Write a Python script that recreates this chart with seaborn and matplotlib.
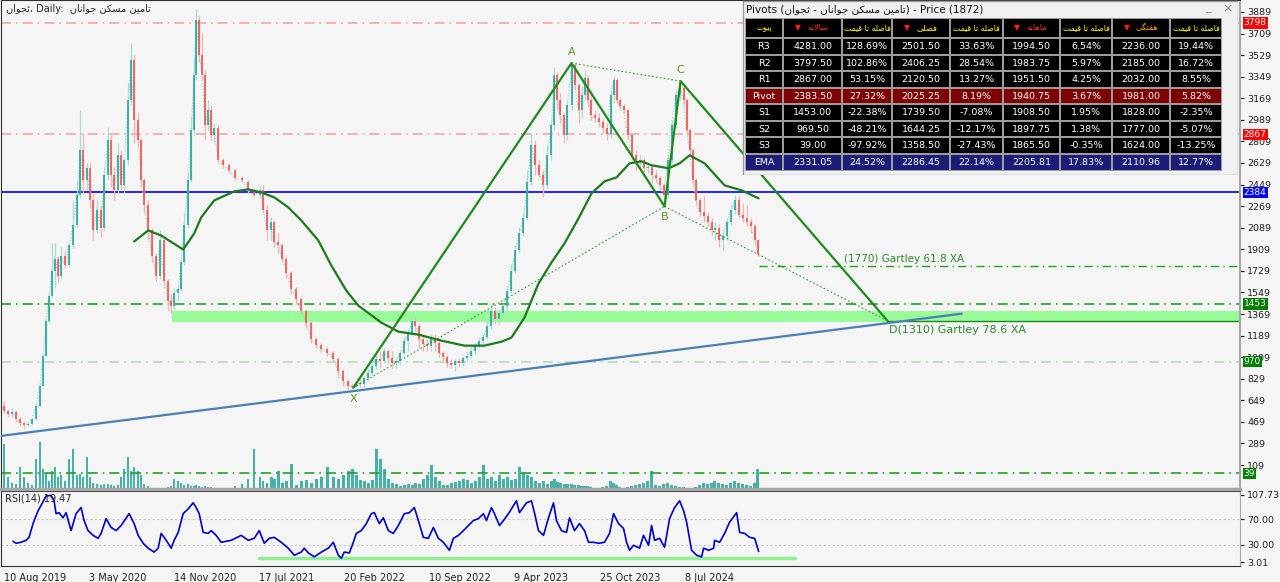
"""
ثجوان daily chart: candles + volume, pivot levels, gartley pattern, RSI(14) and pivot table
"""
import numpy as np
import pandas as pd
import matplotlib
matplotlib.use("Agg")
import matplotlib.pyplot as plt
from matplotlib.patches import Rectangle
import seaborn as sns

sns.set_style("white")
plt.rcParams['font.family'] = ['DejaVu Sans']
plt.rcParams['axes.unicode_minus'] = False

# ── data ─────────────────────────────────────────────────────────────────────
bar_idx = [0, 8, 16, 24, 32, 40, 48, 56, 64, 72,
           78, 84, 90, 96, 102, 108, 114, 122, 130, 138,
           146, 152, 158, 166, 172, 178, 186, 194, 200, 208,
           214, 220, 228, 234, 240, 248, 254, 260, 268, 274,
           280, 288, 296, 304, 312, 320, 328, 334, 340, 348,
           354, 360, 368, 374, 380, 384, 390, 396, 402, 408,
           414, 420, 428, 438, 450, 462, 476, 488, 500, 512,
           518, 526, 534, 540, 548, 556, 564, 574, 584, 594,
           604, 614, 624, 634, 646, 658, 668, 678, 688, 696,
           704, 712, 720, 728, 736, 744, 752, 760, 768, 776,
           784, 792, 800, 808, 816, 822, 830, 838, 846, 854,
           862, 870, 878, 886, 894, 902, 910, 918, 926, 934,
           942, 950, 958, 966, 974, 982, 990, 998, 1006, 1014,
           1022, 1030, 1038, 1046, 1054, 1062, 1070, 1078, 1086, 1094,
           1100, 1106, 1112, 1120, 1126, 1134, 1140, 1148, 1154, 1160,
           1166, 1172, 1180, 1188, 1196, 1204, 1212, 1218, 1224, 1230,
           1238, 1246, 1254, 1262, 1270, 1278, 1286, 1294, 1302, 1310,
           1318, 1326, 1334, 1342, 1350, 1358, 1364, 1370, 1376, 1382,
           1390, 1398, 1406, 1414, 1420, 1428, 1436, 1444, 1452, 1460,
           1468, 1476, 1484, 1492, 1500, 1506]
open_ = [603, 561, 536, 553, 495, 461, 444, 453, 495, 603,
         770, 1021, 1314, 1523, 1732, 1832, 1690, 1857, 1774, 1941,
         2108, 2359, 2735, 2484, 2585, 2317, 2066, 2233, 2083, 2526,
         2819, 2526, 2401, 2693, 2442, 2651, 3153, 3487, 2986, 2819,
         2484, 2275, 2066, 1857, 1690, 1983, 1648, 1481, 1439, 1548,
         1581, 1799, 2108, 2484, 2902, 3362, 3822, 3529, 3362, 2944,
         3069, 2860, 2919, 2651, 2610, 2568, 2501, 2468, 2401, 2359,
         2401, 2233, 2066, 2133, 1966, 1941, 1832, 1715, 1581, 1498,
         1397, 1297, 1163, 1113, 1080, 1046, 996, 896, 812, 770,
         760, 796, 787, 837, 879, 937, 996, 979, 1063, 1004,
         963, 979, 1046, 1147, 1213, 1314, 1272, 1163, 1121, 1105,
         1163, 1130, 1046, 1013, 963, 946, 979, 963, 1004, 1021,
         1063, 1105, 1147, 1180, 1272, 1397, 1330, 1381, 1439, 1565,
         1732, 1899, 2049, 2167, 2468, 2777, 2610, 2526, 2442, 2693,
         2944, 3362, 3153, 3028, 2860, 3111, 3446, 3278, 3069, 3195,
         3337, 3153, 3028, 3003, 2969, 2919, 2869, 3195, 3320, 3153,
         3103, 3069, 2860, 2693, 2635, 2651, 2585, 2593, 2526, 2501,
         2442, 2359, 2651, 2944, 3195, 3253, 3153, 2902, 2735, 2484,
         2317, 2217, 2183, 2133, 2066, 2083, 1983, 2024, 2133, 2233,
         2317, 2192, 2167, 2133, 2100, 1983]
high = [645, 578, 586, 570, 511, 478, 470, 503, 620, 787,
        1038, 1330, 1540, 1958, 1958, 1857, 1924, 1899, 1958, 2317,
        2484, 3069, 2877, 2626, 2626, 2376, 2317, 2275, 2593, 2927,
        2860, 2593, 2794, 2735, 2668, 3295, 3629, 3529, 3044, 2835,
        2501, 2317, 2083, 1874, 2066, 1999, 1665, 1548, 1590, 1623,
        1832, 2208, 2543, 3011, 3512, 3914, 3864, 3713, 3404, 3153,
        3111, 2961, 2944, 2668, 2626, 2585, 2518, 2484, 2409, 2434,
        2442, 2275, 2175, 2150, 2041, 1958, 1849, 1732, 1598, 1514,
        1414, 1314, 1180, 1130, 1096, 1063, 1013, 912, 829, 787,
        812, 829, 854, 912, 979, 1038, 1063, 1088, 1080, 1063,
        996, 1063, 1188, 1247, 1339, 1347, 1297, 1197, 1163, 1205,
        1205, 1147, 1063, 1029, 996, 996, 1004, 1021, 1063, 1096,
        1130, 1180, 1205, 1330, 1456, 1431, 1414, 1456, 1606, 1790,
        1941, 2091, 2208, 2568, 2877, 2819, 2651, 2568, 2777, 2986,
        3429, 3387, 3212, 3044, 3153, 3463, 3462, 3295, 3262, 3404,
        3362, 3237, 3069, 3044, 3003, 2952, 3237, 3345, 3337, 3170,
        3120, 3086, 2877, 2735, 2693, 2668, 2635, 2610, 2568, 2518,
        2459, 2693, 2986, 3237, 3312, 3278, 3170, 2919, 2752, 2501,
        2334, 2350, 2217, 2167, 2133, 2116, 2066, 2167, 2275, 2359,
        2350, 2292, 2275, 2167, 2116, 1999]
low = [545, 511, 511, 470, 436, 411, 428, 444, 486, 595,
       762, 1013, 1297, 1514, 1590, 1632, 1665, 1749, 1765, 1916,
       2083, 2334, 2376, 2401, 2259, 1983, 2041, 2008, 2066, 2484,
       2426, 2317, 2376, 2401, 2376, 2610, 3111, 2794, 2760, 2426,
       2208, 1983, 1799, 1648, 1665, 1590, 1397, 1381, 1414, 1481,
       1565, 1774, 2083, 2468, 2860, 3320, 3471, 3320, 2819, 2902,
       2819, 2794, 2626, 2585, 2543, 2484, 2468, 2376, 2342, 2334,
       2208, 1983, 1983, 1924, 1874, 1799, 1673, 1540, 1456, 1372,
       1255, 1130, 1088, 1055, 1021, 963, 837, 770, 745, 754,
       758, 762, 762, 812, 862, 912, 921, 963, 963, 921,
       921, 946, 1029, 1063, 1188, 1230, 1088, 1063, 1063, 1063,
       1063, 1013, 979, 929, 921, 896, 929, 937, 979, 1004,
       1038, 1088, 1121, 1163, 1247, 1289, 1289, 1356, 1414, 1548,
       1715, 1882, 2024, 2150, 2442, 2526, 2509, 2342, 2417, 2651,
       2902, 3069, 2961, 2794, 2819, 3069, 3237, 2961, 3003, 3153,
       3094, 2986, 2969, 2927, 2877, 2819, 2835, 3128, 3120, 3069,
       3044, 2819, 2651, 2568, 2568, 2551, 2543, 2459, 2459, 2401,
       2267, 2334, 2626, 2919, 3153, 3111, 2860, 2693, 2442, 2275,
       2183, 2133, 2100, 2024, 1983, 1924, 1899, 1983, 2108, 2200,
       2167, 2133, 2100, 2049, 1941, 1857]
close = [561, 536, 553, 495, 461, 444, 453, 495, 603, 770,
         1021, 1314, 1523, 1732, 1832, 1690, 1857, 1774, 1941, 2108,
         2359, 2735, 2484, 2585, 2317, 2066, 2233, 2083, 2526, 2819,
         2526, 2401, 2693, 2442, 2651, 3153, 3487, 2986, 2819, 2484,
         2275, 2066, 1857, 1690, 1983, 1648, 1481, 1439, 1548, 1581,
         1799, 2108, 2484, 2902, 3362, 3822, 3529, 3362, 2944, 3069,
         2860, 2919, 2651, 2610, 2568, 2501, 2484, 2401, 2359, 2401,
         2233, 2066, 2133, 1966, 1941, 1832, 1715, 1581, 1498, 1397,
         1297, 1163, 1113, 1080, 1046, 996, 896, 812, 770, 760,
         796, 787, 837, 879, 937, 996, 979, 1063, 1004, 963,
         979, 1046, 1147, 1213, 1314, 1272, 1163, 1121, 1105, 1163,
         1130, 1046, 1013, 963, 946, 979, 963, 1004, 1021, 1063,
         1105, 1147, 1180, 1272, 1397, 1330, 1381, 1439, 1565, 1732,
         1899, 2049, 2167, 2468, 2777, 2610, 2526, 2442, 2693, 2944,
         3362, 3153, 3028, 2860, 3111, 3446, 3278, 3069, 3195, 3337,
         3153, 3028, 3003, 2969, 2919, 2869, 3195, 3320, 3153, 3103,
         3069, 2860, 2693, 2635, 2651, 2585, 2593, 2526, 2501, 2442,
         2359, 2651, 2944, 3195, 3253, 3153, 2902, 2735, 2484, 2317,
         2217, 2183, 2133, 2066, 2083, 1983, 2024, 2133, 2233, 2317,
         2192, 2167, 2133, 2100, 1983, 1872]
volume = [45, 12, 6, 5, 22, 12, 6, 4, 30, 47,
          20, 15, 8, 18, 22, 12, 14, 8, 30, 40,
          14, 15, 12, 32, 12, 6, 5, 4, 5, 5,
          4, 3, 4, 12, 20, 32, 18, 22, 18, 14,
          5, 3, 1, 1, 1, 1, 2, 3, 10, 8,
          6, 4, 5, 3, 3, 4, 3, 2, 3, 2,
          2, 1, 1, 0.5, 0.5, 3, 5, 10, 40, 12,
          8, 6, 12, 10, 18, 6, 8, 25, 4, 8,
          9, 6, 10, 12, 22, 12, 10, 14, 18, 20,
          14, 9, 8, 6, 9, 40, 30, 20, 10, 6,
          5, 3, 4, 5, 4, 6, 5, 10, 14, 24,
          12, 8, 4, 4, 6, 7, 8, 10, 9, 6,
          8, 12, 24, 10, 12, 8, 14, 10, 12, 9,
          10, 22, 16, 14, 12, 8, 6, 8, 5, 8,
          10, 7, 6, 5, 5, 5, 4, 4, 3, 3,
          3, 2, 1, 1, 2, 3, 8, 6, 4, 2,
          1, 2, 3, 4, 5, 6, 8, 18, 4, 3,
          5, 6, 4, 3, 2, 2, 1, 1, 1, 2,
          4, 6, 5, 6, 8, 6, 5, 4, 6, 8,
          6, 5, 4, 3, 6, 20]

# smooth moving-average curve (dark green)
ma_idx = [260, 288, 314, 358, 380, 394, 420, 460, 488, 514, 540, 568, 594, 628,
          654, 684, 708, 754, 788, 828, 874, 920, 960, 994, 1014, 1040, 1068,
          1094, 1120, 1148, 1174, 1200, 1224, 1250, 1274, 1294, 1328, 1350,
          1370, 1400, 1440, 1474, 1508]
ma_val = [1974, 2066, 2024, 1907, 2041, 2175, 2317, 2392, 2409, 2384, 2342, 2259,
          2150, 1983, 1774, 1565, 1439, 1297, 1222, 1197, 1147, 1105, 1105, 1138,
          1172, 1339, 1623, 1799, 1958, 2167, 2376, 2476, 2509, 2626, 2643, 2610,
          2585, 2626, 2693, 2626, 2442, 2401, 2334]

# RSI(14)
rsi_idx = [18, 24, 34, 44, 50, 58, 68, 78, 84, 94, 100, 104, 110, 118, 124, 134,
           144, 154, 160, 168, 178, 188, 194, 204, 214, 224, 234, 250, 260, 268,
           278, 288, 300, 308, 314, 320, 328, 334, 340, 348, 358, 368, 378, 384,
           390, 398, 408, 414, 424, 434, 454, 474, 488, 500, 510, 520, 530, 540,
           554, 568, 580, 594, 600, 608, 620, 634, 648, 658, 668, 674, 680, 690,
           698, 704, 714, 724, 734, 740, 750, 758, 768, 778, 788, 800, 810, 820,
           828, 838, 848, 858, 868, 878, 890, 898, 908, 918, 928, 938, 948, 958,
           964, 974, 980, 990, 998, 1008, 1024, 1030, 1044, 1054, 1060, 1068,
           1078, 1088, 1098, 1104, 1114, 1124, 1130, 1140, 1150, 1160, 1168,
           1178, 1188, 1200, 1210, 1218, 1228, 1238, 1244, 1250, 1258, 1270,
           1278, 1288, 1294, 1300, 1310, 1320, 1330, 1340, 1350, 1358, 1364,
           1374, 1384, 1394, 1398, 1408, 1418, 1420, 1430, 1440, 1450, 1464,
           1470, 1480, 1490, 1500, 1508]
rsi_val = [35.4, 32.3, 33.8, 36.9, 41.5, 63.0, 83.0, 97.0, 106.0, 107.0, 98.5,
           78.5, 80.0, 72.0, 80.0, 52.0, 78.5, 88.0, 67.7, 52.0, 44.6, 40.0, 47.7,
           70.8, 57.0, 52.0, 60.0, 78.5, 63.0, 44.6, 32.3, 24.6, 18.5, 24.6, 47.7,
           41.5, 32.3, 24.6, 36.9, 49.2, 78.5, 86.0, 95.4, 88.0, 78.5, 49.2, 47.7,
           52.0, 44.6, 33.8, 36.9, 44.6, 36.9, 40.0, 52.0, 32.3, 40.0, 41.5, 33.8,
           24.6, 13.6, 18.5, 24.6, 17.2, 11.1, 18.5, 24.6, 33.8, 13.6, 9.0, 18.5,
           17.2, 33.8, 47.7, 52.0, 63.0, 78.5, 80.0, 63.0, 72.0, 52.0, 47.7, 60.0,
           78.5, 80.0, 88.0, 67.7, 41.5, 40.0, 57.0, 40.0, 33.8, 21.3, 40.0, 44.6,
           52.0, 60.0, 67.7, 70.8, 78.5, 67.7, 88.0, 78.5, 60.0, 67.7, 78.5, 98.5,
           80.0, 95.4, 98.5, 80.0, 52.0, 44.6, 72.0, 95.4, 67.7, 52.0, 49.2, 72.0,
           52.0, 63.0, 52.0, 33.8, 33.8, 32.3, 33.8, 47.7, 78.5, 63.0, 55.4, 33.8,
           21.3, 29.2, 24.6, 44.6, 29.2, 60.0, 36.9, 40.0, 26.1, 70.8, 88.0, 98.5,
           83.0, 65.3, 21.3, 13.6, 11.1, 24.6, 21.3, 24.6, 36.9, 33.8, 47.7, 65.3,
           80.0, 49.2, 47.7, 41.5, 40.0, 19.47]
rsi_support = [9.0, 9.0]
rsi_support_idx = [510, 1580]

# gartley pattern points
pattern_names = ["X", "A", "B", "C", "D"]
pattern_idx = [698, 1134, 1320, 1352, 1766]
pattern_val = [754, 3463, 2267, 3312, 1310]
gartley_618 = 1770
gartley_618_start = 1508

# long trend line and support zone
trend_idx = [-6, 1914]
trend_val = [352, 1372]
zone_start = 336
zone_lo, zone_hi = 1305, 1390

# yearly pivot levels drawn on chart
level_vals = [3797.5, 2867.0, 2383.5, 1453.0, 969.5, 39.0]
level_tags = ["3798", "2867", "2384", "1453", "970", "39"]

date_pos = [0, 170, 340, 510, 680, 850, 1020, 1190, 1360]
date_labels = ["10 Aug 2019", "3 May 2020", "14 Nov 2020", "17 Jul 2021", "20 Feb 2022",
               "10 Sep 2022", "9 Apr 2023", "25 Oct 2023", "8 Jul 2024"]

# pivot table
PRICE = 1872
row_names = ["R3", "R2", "R1", "Pivot", "S1", "S2", "S3", "EMA"]
yearly = [4281.00, 3797.50, 2867.00, 2383.50, 1453.00, 969.50, 39.00, 2331.05]
yearly_pct = [128.69, 102.86, 53.15, 27.32, -22.38, -48.21, -97.92, 24.52]
seasonal = [2501.50, 2406.25, 2120.50, 2025.25, 1739.50, 1644.25, 1358.50, 2286.45]
seasonal_pct = [33.63, 28.54, 13.27, 8.19, -7.08, -12.17, -27.43, 22.14]
monthly = [1994.50, 1983.75, 1951.50, 1940.75, 1908.50, 1897.75, 1865.50, 2205.81]
monthly_pct = [6.54, 5.97, 4.25, 3.67, 1.95, 1.38, -0.35, 17.83]
weekly = [2236.00, 2185.00, 2032.00, 1981.00, 1828.00, 1777.00, 1624.00, 2110.96]
weekly_pct = [19.44, 16.72, 8.55, 5.82, -2.35, -5.07, -13.25, 12.77]

# ── persian shaping (matplotlib has no bidi / joining) ──────────────────────
FORMS = {  # isolated, final, initial, medial
    'ا': ('\uFE8D', '\uFE8E', None, None),
    'و': ('\uFEED', '\uFEEE', None, None),
    'پ': ('\uFB56', '\uFB57', '\uFB58', '\uFB59'),
    'ت': ('\uFE95', '\uFE96', '\uFE97', '\uFE98'),
    'ث': ('\uFE99', '\uFE9A', '\uFE9B', '\uFE9C'),
    'ج': ('\uFE9D', '\uFE9E', '\uFE9F', '\uFEA0'),
    'س': ('\uFEB1', '\uFEB2', '\uFEB3', '\uFEB4'),
    'ص': ('\uFEB9', '\uFEBA', '\uFEBB', '\uFEBC'),
    'ف': ('\uFED1', '\uFED2', '\uFED3', '\uFED4'),
    'ق': ('\uFED5', '\uFED6', '\uFED7', '\uFED8'),
    'ک': ('\uFB8E', '\uFB8F', '\uFB90', '\uFB91'),
    'گ': ('\uFB92', '\uFB93', '\uFB94', '\uFB95'),
    'ل': ('\uFEDD', '\uFEDE', '\uFEDF', '\uFEE0'),
    'م': ('\uFEE1', '\uFEE2', '\uFEE3', '\uFEE4'),
    'ن': ('\uFEE5', '\uFEE6', '\uFEE7', '\uFEE8'),
    'ه': ('\uFEE9', '\uFEEA', '\uFEEB', '\uFEEC'),
    'ی': ('\uFBFC', '\uFBFD', '\uFBFE', '\uFBFF'),
}


def fa(text):
    def joins_next(c):
        return c in FORMS and FORMS[c][2] is not None
    out, i = [], 0
    while i < len(text):
        c = text[i]
        if c not in FORMS:
            out.append(c); i += 1; continue
        link_prev = i > 0 and joins_next(text[i-1])
        if c == 'ل' and i+1 < len(text) and text[i+1] == 'ا':   # lam-alef
            out.append('\uFEFC' if link_prev else '\uFEFB'); i += 2; continue
        link_next = joins_next(c) and i+1 < len(text) and text[i+1] in FORMS
        iso, fin, ini, med = FORMS[c]
        out.append(med if (link_prev and link_next) else fin if link_prev
                   else ini if link_next else iso)
        i += 1
    return ''.join(reversed(out))


# ── figure ───────────────────────────────────────────────────────────────────
BG = '#f5f5f5'
UP, DOWN = '#26a69a', '#ef5350'
UP_W, DOWN_W = '#a9dcd5', '#f6b3b3'
GREEN = '#1e8a1e'

fig = plt.figure(figsize=(12.8, 5.82), dpi=100, facecolor=BG)
ax = fig.add_axes([0.0008, 0.1598, 0.968, 0.8402])
ax_vol = ax.twinx()
ax.set_zorder(ax_vol.get_zorder() + 1)
ax.patch.set_visible(False)
ax_vol.set_facecolor(BG)
ax_rsi = fig.add_axes([0.0008, 0.0275, 0.968, 0.1289], facecolor=BG)

XMIN, XMAX = -6, 2470
ax.set_xlim(XMIN, XMAX)
ax.set_ylim(-91, 3989)

# volume
ax_vol.bar(bar_idx, volume, width=5, color=UP, alpha=0.85, linewidth=0)
ax_vol.set_ylim(0, 488)
ax_vol.yaxis.set_visible(False)
ax_vol.set_xlim(XMIN, XMAX)

# support zone + levels
ax.fill_between([zone_start, XMAX], zone_lo, zone_hi, color='#98fb98', lw=0, zorder=1)
lv_styles = [('#f4a6a6', (0, (6, 3, 1, 3))), ('#f4a6a6', (0, (6, 3, 1, 3))),
             ('#0000ff', '-'), ('#22a022', (0, (6, 3, 1, 3))),
             ('#b4dcb4', (0, (6, 3, 1, 3))), ('#22a022', (0, (6, 3, 1, 3)))]
lv_box = ['#ff0000', '#ff0000', '#0000ff', '#008000', '#008000', '#008000']
for v, tag, (c, ls), bc in zip(level_vals, level_tags, lv_styles, lv_box):
    ax.axhline(v, color=c, ls=ls, lw=1.2, zorder=2)
    ax.text(1.003, v, tag, transform=ax.get_yaxis_transform(), ha='left', va='center',
            fontsize=6.5, color='white', zorder=10,
            bbox=dict(boxstyle='square,pad=0.12', fc=bc, ec='none'))
ax.plot([gartley_618_start, XMAX], [gartley_618, gartley_618], color='#22a022',
        ls=(0, (6, 3, 1, 3)), lw=1, zorder=2)
ax.plot([pattern_idx[4], XMAX], [pattern_val[4], pattern_val[4]], color=GREEN, lw=1, zorder=2)

# trend line
ax.plot(trend_idx, trend_val, color='#4a7fb5', lw=1.6, zorder=3)

# candles
df = pd.DataFrame({'idx': bar_idx, 'o': open_, 'h': high, 'l': low, 'c': close})
up = df['c'] >= df['o']
sns.lineplot(data=df, x='idx', y='c', ax=ax, color='#8fcfc3', lw=0.8, ls=':', zorder=3)
ax.vlines(df['idx'], df['l'], df['h'], colors=np.where(up, UP_W, DOWN_W), lw=0.9, zorder=4)
ax.vlines(df['idx'], df[['o', 'c']].min(axis=1), df[['o', 'c']].max(axis=1),
          colors=np.where(up, UP, DOWN), lw=1.2, zorder=4)

# moving average curve
sns.lineplot(x=ma_idx, y=ma_val, ax=ax, color='#1d7a1d', lw=1.6, zorder=5)

# gartley XABCD
ax.plot(pattern_idx, pattern_val, color=GREEN, lw=1.6, zorder=6)
for a, b in [(0, 2), (1, 3), (2, 4)]:
    ax.plot([pattern_idx[a], pattern_idx[b]], [pattern_val[a], pattern_val[b]],
            color='#3a9a3a', lw=0.8, ls=(0, (1.5, 2)), zorder=6)
for i, name in enumerate(pattern_names[:4]):
    below = name in ("X", "B")
    ax.text(pattern_idx[i], pattern_val[i] + (-50 if below else 50), name,
            ha='center', va='top' if below else 'bottom', fontsize=8,
            color='#5c9a1c', zorder=7)
ax.text(1678, gartley_618 + 20, f"({gartley_618}) Gartley 61.8 XA", fontsize=7.5,
        color='#2e8b2e', va='bottom', zorder=7)
ax.text(pattern_idx[4] + 2, pattern_val[4] - 30,
        f"D({pattern_val[4]}) Gartley 78.6 XA", fontsize=8, color='#2e8b2e',
        va='top', zorder=7)

ax.text(0.004, 0.992, fa("ثجوان") + "، Daily:  " + fa("تامین مسکن جوانان"),
        transform=ax.transAxes, fontsize=7, va='top', ha='left', zorder=8)

# axes cosmetics (main)
ax.yaxis.tick_right()
ax.set_yticks(np.arange(109, 3890, 180))
ax.set_yticklabels([str(v) for v in np.arange(109, 3890, 180)])
ax.tick_params(axis='y', labelsize=6.8, length=3, pad=2, colors='#202020')
ax.set_xticks([])
ax.set_xlabel(""); ax.set_ylabel("")
for s in ['top', 'left']:
    ax.spines[s].set_color('#303030'); ax.spines[s].set_linewidth(0.8)
ax.spines['right'].set_color('#a8a8a8'); ax.spines['right'].set_linewidth(1.5)
ax.spines['bottom'].set_color('#a8a8a8'); ax.spines['bottom'].set_linewidth(2.5)
for s in ax_vol.spines.values():
    s.set_visible(False)

# ── RSI panel ───────────────────────────────────────────────────────────────
ax_rsi.set_xlim(XMIN, XMAX)
ax_rsi.set_ylim(-3.2, 113.9)
for lvl in (70, 30):
    ax_rsi.axhline(lvl, color='#c8c8c8', ls=(0, (2, 2)), lw=0.8)
ax_rsi.plot(rsi_support_idx, rsi_support, color='#90ee90', lw=2.5)
sns.lineplot(x=rsi_idx, y=rsi_val, ax=ax_rsi, color='#0000cd', lw=1.2)
ax_rsi.yaxis.tick_right()
ax_rsi.set_yticks([3.01, 30, 70, 107.73])
ax_rsi.set_yticklabels(["3.01", "30.00", "70.00", "107.73"])
ax_rsi.tick_params(axis='y', labelsize=6.8, length=3, pad=2, colors='#202020')
ax_rsi.set_xticks(date_pos)
ax_rsi.set_xticklabels(date_labels, ha='left')
ax_rsi.tick_params(axis='x', labelsize=7, length=4, pad=1, colors='#202020')
ax_rsi.set_xlabel(""); ax_rsi.set_ylabel("")
ax_rsi.text(0.003, 0.96, f"RSI(14) {rsi_val[-1]:.2f}", transform=ax_rsi.transAxes,
            fontsize=7, va='top')
for s in ax_rsi.spines.values():
    s.set_color('#303030'); s.set_linewidth(0.8)
ax_rsi.spines['right'].set_color('#a8a8a8')

# ── pivot table window (pixel coords) ───────────────────────────────────────
ax_tab = fig.add_axes([742/1280, 1-175/582, 496/1280, 175/582])
ax_tab.set_zorder(20)
ax_tab.set_xlim(742, 1238); ax_tab.set_ylim(175, 0)
ax_tab.axis('off')
ax_tab.add_patch(Rectangle((742.5, 0.5), 495, 174, fc='#f0f0f0', ec='#9a9a9a', lw=1))
ax_tab.text(746, 9, "Pivots (" + fa("تامین مسکن جوانان - ثجوان") + f") - Price ({PRICE})",
            fontsize=7.5, va='center', ha='left', color='#111111')
ax_tab.text(1208, 8, "_", fontsize=8, va='center', ha='center', color='#888888')
ax_tab.text(1228, 9, "×", fontsize=9, va='center', ha='center', color='#888888')

col_edges = [745, 783, 842, 892, 950, 1003, 1060, 1112, 1170, 1222]
row_edges = [17.5, 37.5, 54.5, 71, 87.5, 104, 120.5, 137, 153.5, 170.5]
ax_tab.add_patch(Rectangle((col_edges[0], row_edges[0]), col_edges[-1] - col_edges[0],
                           row_edges[-1] - row_edges[0], fc='#9c9c9c', ec='none'))
row_bg = ['#000000'] * 3 + ['#800000'] + ['#000000'] * 3 + ['#1c1c78']

pct_head = fa("فاصله تا قیمت")
headers = [(None, fa("پیوت"), '#ffff00'),
           ('#ff2020', fa("سالانه"), '#ff3030'), (None, pct_head, '#ffff00'),
           ('#ff2020', fa("فصلی"), '#ffff00'), (None, pct_head, '#ffff00'),
           ('#ff2020', fa("ماهانه"), '#ff3030'), (None, pct_head, '#ffff00'),
           ('#ff2020', fa("هفتگی"), '#ffa500'), (None, pct_head, '#ffff00')]
y0, y1 = row_edges[0], row_edges[1]
for j, (tri, word, wc) in enumerate(headers):
    x0, x1 = col_edges[j], col_edges[j+1]
    ax_tab.add_patch(Rectangle((x0 + 1, y0 + 1), x1 - x0 - 2, y1 - y0 - 2, fc='#000000', ec='none'))
    if tri:
        ax_tab.text(x0 + 0.25*(x1 - x0), (y0 + y1)/2, "▼", color=tri, fontsize=5.5,
                    ha='center', va='center')
        ax_tab.text(x0 + 0.6*(x1 - x0), (y0 + y1)/2, word, color=wc, fontsize=6,
                    ha='center', va='center')
    else:
        ax_tab.text((x0 + x1)/2, (y0 + y1)/2, word, color=wc, fontsize=5.6,
                    ha='center', va='center')

for r, name in enumerate(row_names):
    cells = [name, f"{yearly[r]:.2f}", f"{yearly_pct[r]:.2f}%", f"{seasonal[r]:.2f}",
             f"{seasonal_pct[r]:.2f}%", f"{monthly[r]:.2f}", f"{monthly_pct[r]:.2f}%",
             f"{weekly[r]:.2f}", f"{weekly_pct[r]:.2f}%"]
    y0, y1 = row_edges[r+1], row_edges[r+2]
    for j, txt in enumerate(cells):
        x0, x1 = col_edges[j], col_edges[j+1]
        ax_tab.add_patch(Rectangle((x0 + 1, y0 + 1), x1 - x0 - 2, y1 - y0 - 2,
                                   fc=row_bg[r], ec='none'))
        ax_tab.text((x0 + x1)/2, (y0 + y1)/2 + 0.5, txt, color='white', fontsize=6.8,
                    ha='center', va='center')

fig.savefig("out.png", dpi=100, facecolor=BG)
plt.close(fig)
